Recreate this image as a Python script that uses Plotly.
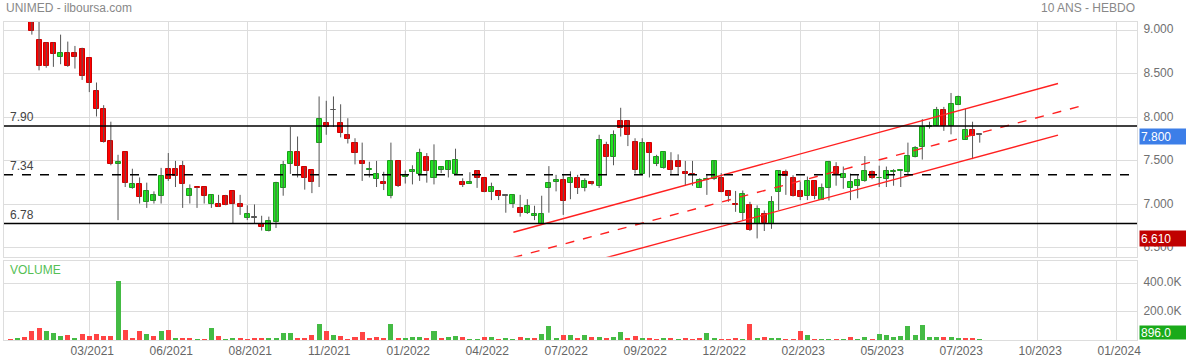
import plotly.graph_objects as go

# ---------------- data (weekly candles, index 0 = first week) ----------------
opens = [9.35, 9.30, 9.38, 9.20, 8.89, 8.85, 8.85, 8.69, 8.74, 8.74,
         8.79, 8.68, 8.30, 8.10, 7.73, 7.47, 7.60, 7.19, 7.23, 7.03,
         7.04, 7.10, 7.41, 7.41, 7.44, 7.10, 7.20, 7.20, 7.01, 7.00,
         7.10, 7.15, 7.00, 6.85, 6.85, 6.775, 6.70, 6.80, 7.19, 7.47,
         7.60, 7.43, 7.39, 7.70, 7.93, 8.08, 7.94, 7.80, 7.70, 7.50,
         7.40, 7.29, 7.26, 7.10, 7.50, 7.32, 7.375, 7.35, 7.54, 7.30,
         7.40, 7.40, 7.35, 7.26, 7.24, 7.38, 7.30, 7.145, 7.155, 7.10,
         7.00, 6.955, 6.905, 6.87, 6.775, 7.19, 7.26, 7.28, 7.25, 7.30,
         7.19, 7.26, 7.215, 7.68, 7.54, 7.955, 7.955, 7.72, 7.35, 7.70,
         7.46, 7.415, 7.50, 7.50, 7.375, 7.35, 7.19, 7.275, 7.29, 7.30,
         7.155, 7.00, 6.905, 6.99, 6.78, 6.885, 6.78, 7.145, 7.37, 7.30,
         7.155, 7.10, 7.27, 7.05, 7.185, 7.435, 7.30, 7.19, 7.215, 7.27,
         7.375, 7.30, 7.29, 7.37, 7.385, 7.375, 7.545, 7.655, 7.895, 7.90,
         8.085, 7.90, 8.145, 7.745, 7.855, 7.80]
highs = [9.40, 9.45, 9.40, 9.25, 9.12, 8.86, 8.86, 8.95, 8.87, 8.82,
         8.80, 8.68, 8.40, 8.14, 7.95, 7.57, 7.60, 7.41, 7.31, 7.25,
         7.15, 7.42, 7.59, 7.50, 7.50, 7.23, 7.20, 7.20, 7.11, 7.11,
         7.11, 7.15, 7.11, 6.99, 7.00, 6.87, 6.86, 7.26, 7.50, 7.89,
         7.78, 7.43, 7.39, 8.24, 8.19, 8.24, 8.15, 7.99, 7.76, 7.71,
         7.49, 7.50, 7.375, 7.71, 7.50, 7.39, 7.45, 7.64, 7.59, 7.69,
         7.43, 7.50, 7.64, 7.30, 7.37, 7.39, 7.30, 7.25, 7.16, 7.10,
         7.11, 7.11, 7.06, 6.985, 7.10, 7.44, 7.34, 7.34, 7.38, 7.34,
         7.30, 7.27, 7.80, 7.72, 7.85, 8.11, 7.97, 7.76, 7.76, 7.70,
         7.57, 7.60, 7.60, 7.575, 7.50, 7.50, 7.30, 7.34, 7.50, 7.36,
         7.16, 7.155, 7.16, 7.03, 6.99, 6.93, 7.095, 7.395, 7.40, 7.335,
         7.26, 7.32, 7.27, 7.24, 7.50, 7.485, 7.435, 7.355, 7.335, 7.555,
         7.39, 7.445, 7.435, 7.405, 7.39, 7.71, 7.67, 7.98, 7.95, 8.12,
         8.12, 8.28, 8.25, 8.10, 7.95, 7.80]
lows = [9.25, 9.28, 9.15, 8.95, 8.54, 8.57, 8.58, 8.61, 8.58, 8.56,
        8.43, 8.29, 8.01, 7.71, 7.45, 6.82, 7.20, 7.18, 7.01, 6.96,
        7.01, 7.01, 7.27, 7.20, 6.96, 7.01, 6.96, 7.01, 6.96, 6.97,
        6.99, 6.78, 6.88, 6.82, 6.78, 6.70, 6.69, 6.73, 7.10, 7.35,
        7.31, 7.17, 7.13, 7.20, 7.80, 7.89, 7.77, 7.70, 7.46, 7.27,
        7.31, 7.20, 7.165, 7.07, 7.20, 7.24, 7.23, 7.27, 7.25, 7.23,
        7.36, 7.31, 7.35, 7.20, 7.24, 7.19, 7.14, 7.05, 7.05, 6.905,
        6.96, 6.86, 6.89, 6.82, 6.77, 6.905, 7.15, 6.88, 7.06, 7.12,
        7.15, 7.22, 7.19, 7.345, 7.45, 7.78, 7.67, 7.355, 7.35, 7.31,
        7.44, 7.41, 7.35, 7.35, 7.215, 7.215, 7.19, 7.11, 7.28, 7.14,
        7.03, 6.915, 6.82, 6.695, 6.61, 6.695, 6.72, 6.935, 7.11, 7.09,
        7.05, 7.05, 7.06, 7.05, 7.045, 7.215, 7.18, 7.05, 7.07, 7.26,
        7.29, 7.20, 7.20, 7.215, 7.20, 7.335, 7.54, 7.515, 7.87, 7.90,
        7.845, 7.805, 8.14, 7.745, 7.52, 7.71]
closes = [9.30, 9.38, 9.20, 8.99, 8.585, 8.59, 8.73, 8.74, 8.59, 8.69,
          8.48, 8.40, 8.10, 7.72, 7.46, 7.49, 7.25, 7.23, 7.09, 7.15,
          7.11, 7.33, 7.29, 7.33, 7.23, 7.18, 7.19, 7.10, 7.105, 6.975,
          6.995, 7.00, 6.975, 6.89, 6.85, 6.74, 6.81, 7.25, 7.45, 7.60,
          7.44, 7.30, 7.26, 7.98, 7.89, 8.08, 7.815, 7.75, 7.59, 7.47,
          7.41, 7.35, 7.24, 7.50, 7.215, 7.34, 7.395, 7.59, 7.385, 7.50,
          7.425, 7.50, 7.505, 7.22, 7.26, 7.30, 7.145, 7.195, 7.095, 7.10,
          7.11, 6.905, 6.98, 6.885, 6.89, 7.25, 7.28, 7.045, 7.30, 7.185,
          7.27, 7.235, 7.74, 7.55, 7.80, 7.875, 7.795, 7.40, 7.70, 7.585,
          7.54, 7.60, 7.40, 7.435, 7.35, 7.34, 7.28, 7.29, 7.50, 7.145,
          7.10, 6.99, 7.12, 6.705, 6.945, 6.79, 7.03, 7.385, 7.33, 7.10,
          7.08, 7.27, 7.10, 7.185, 7.485, 7.35, 7.355, 7.255, 7.28, 7.385,
          7.30, 7.305, 7.385, 7.385, 7.39, 7.555, 7.65, 7.89, 7.90, 8.085,
          7.90, 8.15, 8.23, 7.855, 7.79, 7.80]
volumes_k = [4, 10, 19, 64, 83, 66, 47, 26, 38, 12,
             43, 26, 43, 31, 29, 415, 74, 16, 64, 43,
             29, 66, 74, 16, 10, 10, 5, 5, 88, 29,
             5, 14, 16, 3, 12, 12, 12, 16, 50, 50,
             10, 8, 38, 114, 64, 38, 29, 5, 24, 57,
             16, 24, 9, 114, 9, 16, 20, 20, 16, 62,
             9, 20, 31, 24, 3, 5, 24, 24, 3, 14,
             3, 24, 9, 16, 45, 102, 9, 38, 38, 16,
             36, 24, 24, 9, 24, 55, 16, 31, 9, 16,
             3, 9, 9, 3, 16, 3, 9, 52, 9, 3,
             5, 9, 5, 116, 16, 24, 16, 16, 7, 3,
             62, 38, 3, 3, 7, 3, 7, 19, 7, 24,
             7, 45, 38, 24, 26, 102, 38, 107, 24, 24,
             19, 19, 16, 9, 9, 0.896]

tick_weeks = [11, 22, 33, 44, 55, 66, 77, 88, 99, 110, 121, 132, 143, 154]
tick_labels = ["03/2021", "06/2021", "08/2021", "11/2021", "01/2022", "04/2022",
               "07/2022", "09/2022", "12/2022", "02/2023", "05/2023", "07/2023",
               "10/2023", "01/2024"]
price_ticks = [6.5, 7.0, 7.5, 8.0, 8.5, 9.0]
volume_ticks = [200000, 400000]

levels = [7.90, 7.34, 6.78]

channel_upper_x = [70.06, 145.9]
channel_upper_y = [6.68, 8.389]
channel_mid_x = [70.06, 149.0]
channel_mid_y = [6.39, 8.128]
channel_lower_x = [70.06, 145.9]
channel_lower_y = [6.10, 7.796]

# ---------------- derived ----------------
n = len(closes)
idx = list(range(n))
volumes = [v * 1000 for v in volumes_k]

GREEN = "#22e622"
GREEN_LINE = "#1a9e1a"
RED = "#ff0000"
RED_LINE = "#cc0000"
GRAY = "#555555"

body_base, body_h, body_fill, body_line = [], [], [], []
for o, c in zip(opens, closes):
    body_base.append(min(o, c))
    body_h.append(max(abs(c - o), 0.006))
    if c > o:
        body_fill.append(GREEN); body_line.append(GREEN_LINE)
    elif c < o:
        body_fill.append(RED); body_line.append(RED_LINE)
    else:
        body_fill.append(GRAY); body_line.append(GRAY)

wick_x, wick_y = [], []
for i, h, l in zip(idx, highs, lows):
    wick_x += [i, i, None]
    wick_y += [l, h, None]

vol_colors = []
for i in idx:
    ref = closes[i - 1] if i > 0 else opens[0]
    vol_colors.append("#44bb44" if closes[i] >= ref else "#ff4444")

fig = go.Figure()
fig.add_trace(go.Scatter(x=wick_x, y=wick_y, mode="lines",
                         line=dict(color=GRAY, width=1), hoverinfo="skip",
                         xaxis="x", yaxis="y"))
fig.add_trace(go.Bar(x=idx, y=body_h, base=body_base, width=0.7,
                     marker=dict(color=body_fill, line=dict(color=body_line, width=1)),
                     xaxis="x", yaxis="y"))
fig.add_trace(go.Scatter(x=channel_upper_x, y=channel_upper_y, mode="lines",
                         line=dict(color="#ff2020", width=1.4), xaxis="x", yaxis="y"))
fig.add_trace(go.Scatter(x=channel_mid_x, y=channel_mid_y, mode="lines",
                         line=dict(color="#ff2020", width=1.4, dash="dash"),
                         xaxis="x", yaxis="y"))
fig.add_trace(go.Scatter(x=channel_lower_x, y=channel_lower_y, mode="lines",
                         line=dict(color="#ff2020", width=1.4), xaxis="x", yaxis="y"))
fig.add_trace(go.Bar(x=idx, y=volumes, width=0.7,
                     marker=dict(color=vol_colors, line=dict(width=0)),
                     xaxis="x2", yaxis="y2"))

shapes = []
for k, lv in enumerate(levels):
    shapes.append(dict(type="line", xref="paper", x0=0, x1=1, yref="y", y0=lv, y1=lv,
                       line=dict(color="black", width=1.5,
                                 dash="dash" if k == 1 else "solid"), layer="above"))

FONT = "Liberation Sans, Arial, sans-serif"
annotations = [
    dict(text="UNIMED - ilboursa.com", xref="paper", yref="paper", x=0, y=1.044,
         xanchor="left", yanchor="middle", showarrow=False,
         font=dict(size=12, color="#888888", family=FONT)),
    dict(text="10 ANS - HEBDO", xref="paper", yref="paper", x=1, y=1.044,
         xanchor="right", yanchor="middle", showarrow=False,
         font=dict(size=12, color="#888888", family=FONT)),
    dict(text="VOLUME", xref="paper", yref="paper", x=0, xshift=4, y=0.22,
         xanchor="left", yanchor="middle", showarrow=False,
         font=dict(size=12, color="#55c055", family=FONT)),
]
for lv in levels:
    annotations.append(dict(text=f"{lv:.2f}", xref="paper", yref="y", x=0, xshift=4,
                            y=lv, yshift=9, xanchor="left", yanchor="middle",
                            showarrow=False, font=dict(size=12, color="#444444", family=FONT)))

last_close = closes[-1]
min_low = min(lows)
last_vol = volumes[-1]
annotations.append(dict(text=f"{last_close:.3f}", xref="paper", yref="y", x=1, xshift=2,
                        y=last_close, yshift=-2, xanchor="left", yanchor="middle",
                        showarrow=False, bgcolor="#3c7ee8", width=44, height=13,
                        align="left", borderpad=1,
                        font=dict(size=12, color="white", family=FONT)))
annotations.append(dict(text=f"{min_low:.3f}", xref="paper", yref="y", x=1, xshift=2,
                        y=min_low, xanchor="left", yanchor="middle", showarrow=False,
                        bgcolor="#c00000", width=44, height=13, align="left", borderpad=1,
                        font=dict(size=12, color="white", family=FONT)))
annotations.append(dict(text=f"{last_vol:.1f}", xref="paper", yref="y2", x=1, xshift=2,
                        y=last_vol, xanchor="left", yanchor="bottom", showarrow=False,
                        bgcolor="#1aaa1a", width=44, height=11, align="left", borderpad=1,
                        font=dict(size=12, color="white", family=FONT)))

xrange = [-0.88, 156.9]
axis_common = dict(showgrid=True, gridcolor="#dddddd", gridwidth=1, zeroline=False,
                   showline=True, linecolor="#dddddd", linewidth=1, mirror=True)

fig.update_layout(
    width=1186, height=362,
    margin=dict(l=4, r=49, t=22, b=22),
    paper_bgcolor="white", plot_bgcolor="white",
    showlegend=False, barmode="overlay", bargap=0,
    font=dict(family=FONT, size=12, color="#666666"),
    shapes=shapes, annotations=annotations,
    xaxis=dict(domain=[0, 1], range=xrange, anchor="y", tickvals=tick_weeks,
               showticklabels=False, ticks="", **axis_common),
    yaxis=dict(domain=[0.262, 1], range=[6.40, 9.095], side="right", anchor="x",
               tickvals=price_ticks, ticktext=[f"{v:.3f}" for v in price_ticks],
               ticks="", ticklabelshift=-1, ticklabelstandoff=3,
               tickfont=dict(size=12, color="#707070"), **axis_common),
    xaxis2=dict(domain=[0, 1], range=xrange, anchor="y2", tickvals=tick_weeks,
                ticktext=tick_labels, ticks="", ticklabelshift=3,
                tickfont=dict(size=12, color="#666666"), **axis_common),
    yaxis2=dict(domain=[0, 0.2484], range=[0, 557000], side="right", anchor="x2",
                tickvals=volume_ticks, ticktext=[f"{v/1000:.1f}K" for v in volume_ticks],
                ticks="", ticklabelshift=-1, ticklabelstandoff=3,
                tickfont=dict(size=12, color="#707070"), **axis_common),
)

fig.write_html("out.html")
